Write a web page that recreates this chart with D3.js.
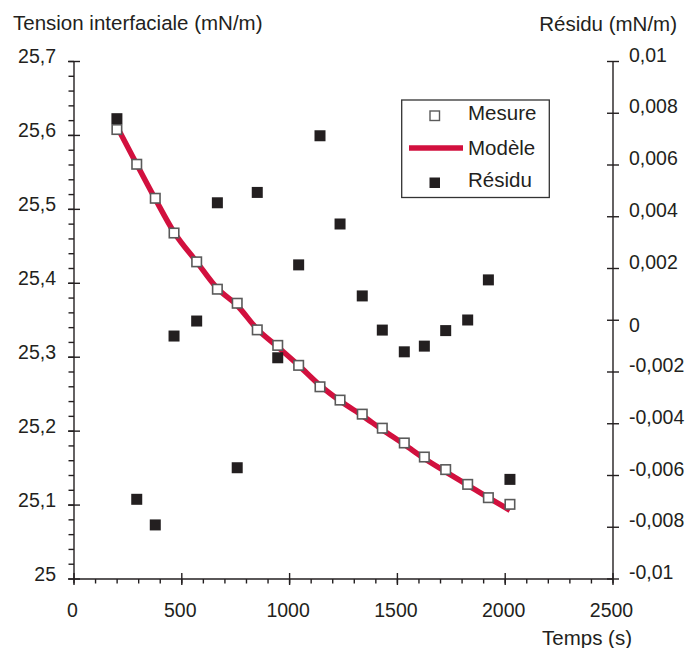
<!DOCTYPE html>
<html>
<head>
<meta charset="utf-8">
<script src="https://cdn.jsdelivr.net/npm/d3@7"></script>
<style>
  html, body { margin: 0; padding: 0; background: #fff; }
  svg text { font-family: "Liberation Sans", Arial, Helvetica, sans-serif; fill: #231f20; }
</style>
</head>
<body>
<svg id="chart" width="690" height="648"></svg>
<script>
// ---- Data ----
const temps   = [199, 291, 377, 464, 569, 665, 757, 850, 945, 1042, 1141, 1234, 1337, 1430, 1532, 1625, 1724, 1826, 1922, 2022];
const mesure  = [25.608, 25.561, 25.515, 25.468, 25.429, 25.392, 25.373, 25.337, 25.316, 25.289, 25.260, 25.242, 25.223, 25.204, 25.184, 25.165, 25.148, 25.128, 25.110, 25.101];
const modele  = [25.612, 25.561, 25.514, 25.469, 25.429, 25.393, 25.370, 25.338, 25.314, 25.289, 25.262, 25.241, 25.221, 25.202, 25.182, 25.163, 25.145, 25.127, 25.110, 25.093];
const residu  = [0.00779, -0.00692, -0.00791, -0.00061, -0.00003, 0.00454, -0.00570, 0.00494, -0.00145, 0.00214, 0.00713, 0.00372, 0.00094, -0.00038, -0.00122, -0.00100, -0.00040, 0.00001, 0.00156, -0.00615];

const xTicks      = [0, 500, 1000, 1500, 2000, 2500];
const yLeftTicks  = [25, 25.1, 25.2, 25.3, 25.4, 25.5, 25.6, 25.7];
const yRightTicks = [-0.01, -0.008, -0.006, -0.004, -0.002, 0, 0.002, 0.004, 0.006, 0.008, 0.01];
const legendLabels = ["Mesure", "Modèle", "Résidu"];
const titleLeft = "Tension interfaciale (mN/m)";
const titleRight = "Résidu (mN/m)";
const titleX = "Temps (s)";

// ---- Setup ----
const svg = d3.select("#chart");
const fr = d3.formatLocale({decimal: ",", thousands: "", grouping: [3], currency: ["", "€"], minus: "-"});
const fmt = v => fr.format("~g")(+v.toPrecision(6));

const x  = d3.scaleLinear().domain([0, 2500]).range([74, 613]);
const yL = d3.scaleLinear().domain([25, 25.7]).range([579, 61.5]);
const yR = d3.scaleLinear().domain([-0.01, 0.01]).range([579, 61.5]);

const ink = "#231f20";
const red = "#d2103e";

// ---- Axes ----
const ax = svg.append("g").attr("stroke", ink).attr("stroke-width", 1.4).attr("fill", "none");
ax.append("line").attr("x1", x(0)).attr("x2", x(0)).attr("y1", yL(25.7)).attr("y2", yL(25));
ax.append("line").attr("x1", x(2500)).attr("x2", x(2500)).attr("y1", yR(0.01)).attr("y2", yR(-0.01));
ax.append("line").attr("x1", x(0)).attr("x2", x(2500)).attr("y1", yL(25)).attr("y2", yL(25));

// left minor ticks (every 0.02), outward
d3.range(0, 36).map(i => 25 + i * 0.02).forEach(v => {
  ax.append("line").attr("x1", x(0) - 5.5).attr("x2", x(0)).attr("y1", yL(v)).attr("y2", yL(v));
});
// left major ticks, crossing
yLeftTicks.forEach(v => {
  ax.append("line").attr("x1", x(0) - 6).attr("x2", x(0) + 6).attr("y1", yL(v)).attr("y2", yL(v));
});
// x minor ticks (every 100), outward (down)
d3.range(0, 26).map(i => i * 100).forEach(v => {
  ax.append("line").attr("x1", x(v)).attr("x2", x(v)).attr("y1", yL(25)).attr("y2", yL(25) + 4.5);
});
// x major ticks crossing
xTicks.forEach(v => {
  ax.append("line").attr("x1", x(v)).attr("x2", x(v)).attr("y1", yL(25) - 6).attr("y2", yL(25) + 6);
});
// right major ticks crossing
yRightTicks.forEach(v => {
  ax.append("line").attr("x1", x(2500) - 6).attr("x2", x(2500) + 6).attr("y1", yR(v)).attr("y2", yR(v));
});

// tick labels
const lbl = svg.append("g").attr("font-size", "19.5px");
yLeftTicks.forEach(v => {
  lbl.append("text").attr("x", 56).attr("y", yL(v) + 1.5).attr("text-anchor", "end").text(fmt(v));
});
yRightTicks.forEach(v => {
  lbl.append("text").attr("x", 629).attr("y", yR(v) + (v === 0 ? 12 : 0)).attr("text-anchor", "start").text(fmt(v));
});
xTicks.forEach(v => {
  lbl.append("text").attr("x", x(v) - 1.5).attr("y", 617).attr("text-anchor", "middle").text(fmt(v));
});

// titles
svg.append("text").attr("x", 13).attr("y", 30).attr("font-size", "20.5px").text(titleLeft);
svg.append("text").attr("x", 677).attr("y", 31).attr("font-size", "20.5px").attr("text-anchor", "end").text(titleRight);
svg.append("text").attr("x", 632).attr("y", 645).attr("font-size", "20.5px").attr("text-anchor", "end").text(titleX);

// ---- Series ----
const pts = temps.map((t, i) => ({t, m: mesure[i], mod: modele[i], r: residu[i]}));

svg.append("path")
  .datum(pts)
  .attr("fill", "none")
  .attr("stroke", red)
  .attr("stroke-width", 5.5)
  .attr("d", d3.line().x(d => x(d.t)).y(d => yL(d.mod)).curve(d3.curveMonotoneX));

const sq = 11;
svg.append("g").selectAll("rect").data(pts).join("rect")
  .attr("x", d => x(d.t) - sq / 2).attr("y", d => yR(d.r) - sq / 2)
  .attr("width", sq).attr("height", sq)
  .attr("fill", ink);

svg.append("g").selectAll("rect").data(pts).join("rect")
  .attr("x", d => x(d.t) - (sq - 1.5) / 2).attr("y", d => yL(d.m) - (sq - 1.5) / 2)
  .attr("width", sq - 1.5).attr("height", sq - 1.5)
  .attr("fill", "#fff").attr("stroke", "#5a5a5a").attr("stroke-width", 1.6);

// ---- Legend ----
const lg = svg.append("g");
lg.append("rect").attr("x", 401.7).attr("y", 100).attr("width", 147.6).attr("height", 97.5)
  .attr("fill", "#fff").attr("stroke", "#333").attr("stroke-width", 1.3);
lg.append("rect").attr("x", 430).attr("y", 111).attr("width", 9.5).attr("height", 9.5)
  .attr("fill", "#fff").attr("stroke", "#5a5a5a").attr("stroke-width", 1.4);
lg.append("line").attr("x1", 409).attr("x2", 463).attr("y1", 148).attr("y2", 148)
  .attr("stroke", red).attr("stroke-width", 5.5);
lg.append("rect").attr("x", 429.5).attr("y", 177.5).attr("width", 10.5).attr("height", 10.5).attr("fill", ink);
const ly = [120, 155, 187];
legendLabels.forEach((s, i) => {
  lg.append("text").attr("x", 468).attr("y", ly[i]).attr("font-size", "20.5px").text(s);
});
</script>
</body>
</html>
